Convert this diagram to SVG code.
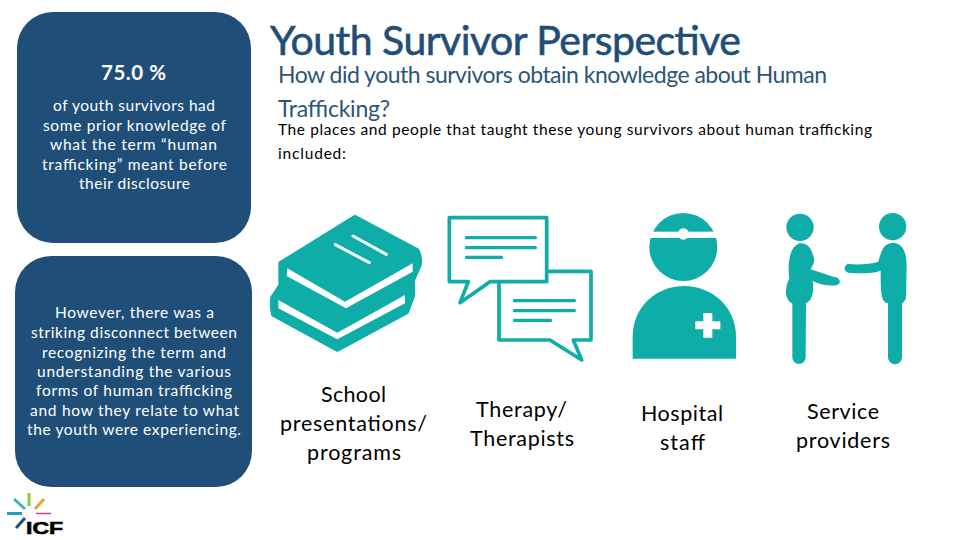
<svg xmlns="http://www.w3.org/2000/svg" width="960" height="540" viewBox="0 0 960 540">
<style>
text{font-family:"Lato","Open Sans","Liberation Sans",sans-serif}
.panel{fill:#1F4E79}
.w{fill:#fff;font-size:15.5px}
.k{fill:#000;font-size:15.5px}
.l{fill:#000;font-size:21.5px}
.sub{fill:#2C5577;font-size:23px}
.teal{fill:#0FADA8}
.tl{fill:none;stroke:#0FADA8;stroke-width:10;stroke-linecap:round}
.tb{fill:none;stroke:#0FADA8;stroke-width:11;stroke-linejoin:round}
.wl{fill:none;stroke:#fff;stroke-width:9;stroke-linecap:round}
</style>
<rect width="960" height="540" fill="#fff"/>
<g id="panel-top">
<rect class="panel" x="17" y="12" width="234" height="231" rx="36"/>
<text x="101" y="80" fill="#fff" font-weight="700" textLength="65" style="font-size:20.5px">75.0 %</text>
<text class="w" x="53" y="111" textLength="162">of youth survivors had</text>
<text class="w" x="43" y="131" textLength="183">some prior knowledge of</text>
<text class="w" x="50" y="150" textLength="167">what the term “human</text>
<text class="w" x="42" y="170" textLength="185">trafficking” meant before</text>
<text class="w" x="79" y="189" textLength="111">their disclosure</text>
</g>
<g id="panel-bottom">
<rect class="panel" x="15" y="256" width="237" height="231" rx="36"/>
<text class="w" x="55" y="318" textLength="159">However, there was a</text>
<text class="w" x="31" y="338" textLength="206">striking disconnect between</text>
<text class="w" x="42" y="358" textLength="184">recognizing the term and</text>
<text class="w" x="37" y="377" textLength="194">understanding the various</text>
<text class="w" x="36" y="396" textLength="196">forms of human trafficking</text>
<text class="w" x="30" y="416" textLength="209">and how they relate to what</text>
<text class="w" x="27" y="435" textLength="214">the youth were experiencing.</text>
</g>
<g id="heading">
<text x="270" y="55" fill="#1F4E79" stroke="#1F4E79" stroke-width=".6" textLength="471" style="font-size:41px">Youth Survivor Perspective</text>
<text class="sub" x="278" y="83" textLength="549">How did youth survivors obtain knowledge about Human</text>
<text class="sub" x="278" y="117" textLength="112">Trafficking?</text>
<text class="k" x="278" y="135" textLength="594">The places and people that taught these young survivors about human trafficking</text>
<text class="k" x="278" y="159" textLength="68">included:</text>
</g>
<g id="school">
<g transform="translate(260 200) scale(.33333)">
<path class="teal" stroke="#0FADA8" stroke-width="14" stroke-linejoin="round" d="M285,52 L472,152 Q482,175 478,195 L458,240 V288 L440,336 L232,448 L40,343 Q34,315 38,293 L62,257 V190 Z"/>
<path fill="#fff" d="M82,205 L255,305 L458,190 V215 L258,325 L80,228Z"/>
<path fill="#fff" d="M55,300 L232,398 L435,285 V310 L232,418 L55,325Z"/>
<path class="wl" d="M226,134 L328,188M279,108 L379,163"/>
</g>
<text class="l" x="321" y="402" textLength="65">School</text>
<text class="l" x="280" y="431" textLength="147">presentations/</text>
<text class="l" x="307" y="460" textLength="94">programs</text>
</g>
<g id="therapy">
<g transform="translate(260 200) scale(.33333)">
<path class="tb" d="M568,53 H860 V245 H690 L600,308 L625,245 H568 Z"/>
<path class="tb" d="M862,214 H993 V420 H940 L965,480 L870,420 H717 V245"/>
<path class="tl" d="M619,113 H826M619,143 H826M619,172 H725M763,302 H943M763,332 H943M763,361 H872"/>
</g>
<text class="l" x="476" y="417" textLength="91">Therapy/</text>
<text class="l" x="470" y="446" textLength="104">Therapists</text>
</g>
<g id="hospital">
<g transform="translate(620 200) scale(.33333)">
<circle class="teal" cx="190" cy="141" r="102"/>
<rect x="85" y="95" width="210" height="19" fill="#fff"/>
<circle cx="190" cy="102" r="17" fill="#fff"/>
<path class="teal" d="M38,476 V410 C38,320 110,258 192,258 C275,258 348,320 348,410 V476 Z"/>
<path fill="#fff" d="M250,339 H277 V364 H301 V388 H277 V413 H250 V388 H226 V364 H250 Z"/>
</g>
<text class="l" x="641" y="421" textLength="82">Hospital</text>
<text class="l" x="660" y="450" textLength="45">staff</text>
</g>
<g id="service">
<g transform="translate(620 200) scale(.33333)">
<circle class="teal" cx="540" cy="82" r="41"/>
<circle class="teal" cx="818" cy="80" r="41"/>
<path class="teal" d="M540,130 C568,130 575,150 582,175 C585,190 575,198 572,208 L640,230 C662,232 665,250 650,256 C630,258 600,255 578,242 C582,270 580,300 558,310 L557,472 A20,20 0 0 1 517,472 L517,310 C495,300 492,270 508,235 C503,200 505,140 540,130Z"/>
<path class="teal" d="M820,128 C850,130 860,160 860,200 L858,295 C855,305 848,308 846,310 L846,472 A21,21 0 0 1 804,472 L804,310 C785,305 782,290 782,212 C760,220 720,222 685,218 C670,215 670,195 685,192 C720,195 750,192 775,185 C785,150 790,130 820,128Z"/>
</g>
<text class="l" x="807" y="419" textLength="72">Service</text>
<text class="l" x="796" y="448" textLength="94">providers</text>
</g>
<g id="logo" stroke-width="3" fill="none">
<path stroke="#8DC63F" d="M29,493 V506"/>
<path stroke="#E8A33D" d="M44,499 L35,509"/>
<path stroke="#3FB8A8" d="M14,499 L25,509"/>
<path stroke="#1F9BC4" d="M7,513.500 H22"/>
<path stroke="#C9408F" stroke-width="1.500" d="M36,513.500 H51"/>
<path stroke="#1F4E79" d="M16,528 L25,518"/>
<text x="26" y="534" fill="#000" stroke="#000" stroke-width=".6" font-weight="700" textLength="37" lengthAdjust="spacingAndGlyphs" style="font-family:'Liberation Sans',sans-serif;font-size:17px">ICF</text>
</g>
</svg>
